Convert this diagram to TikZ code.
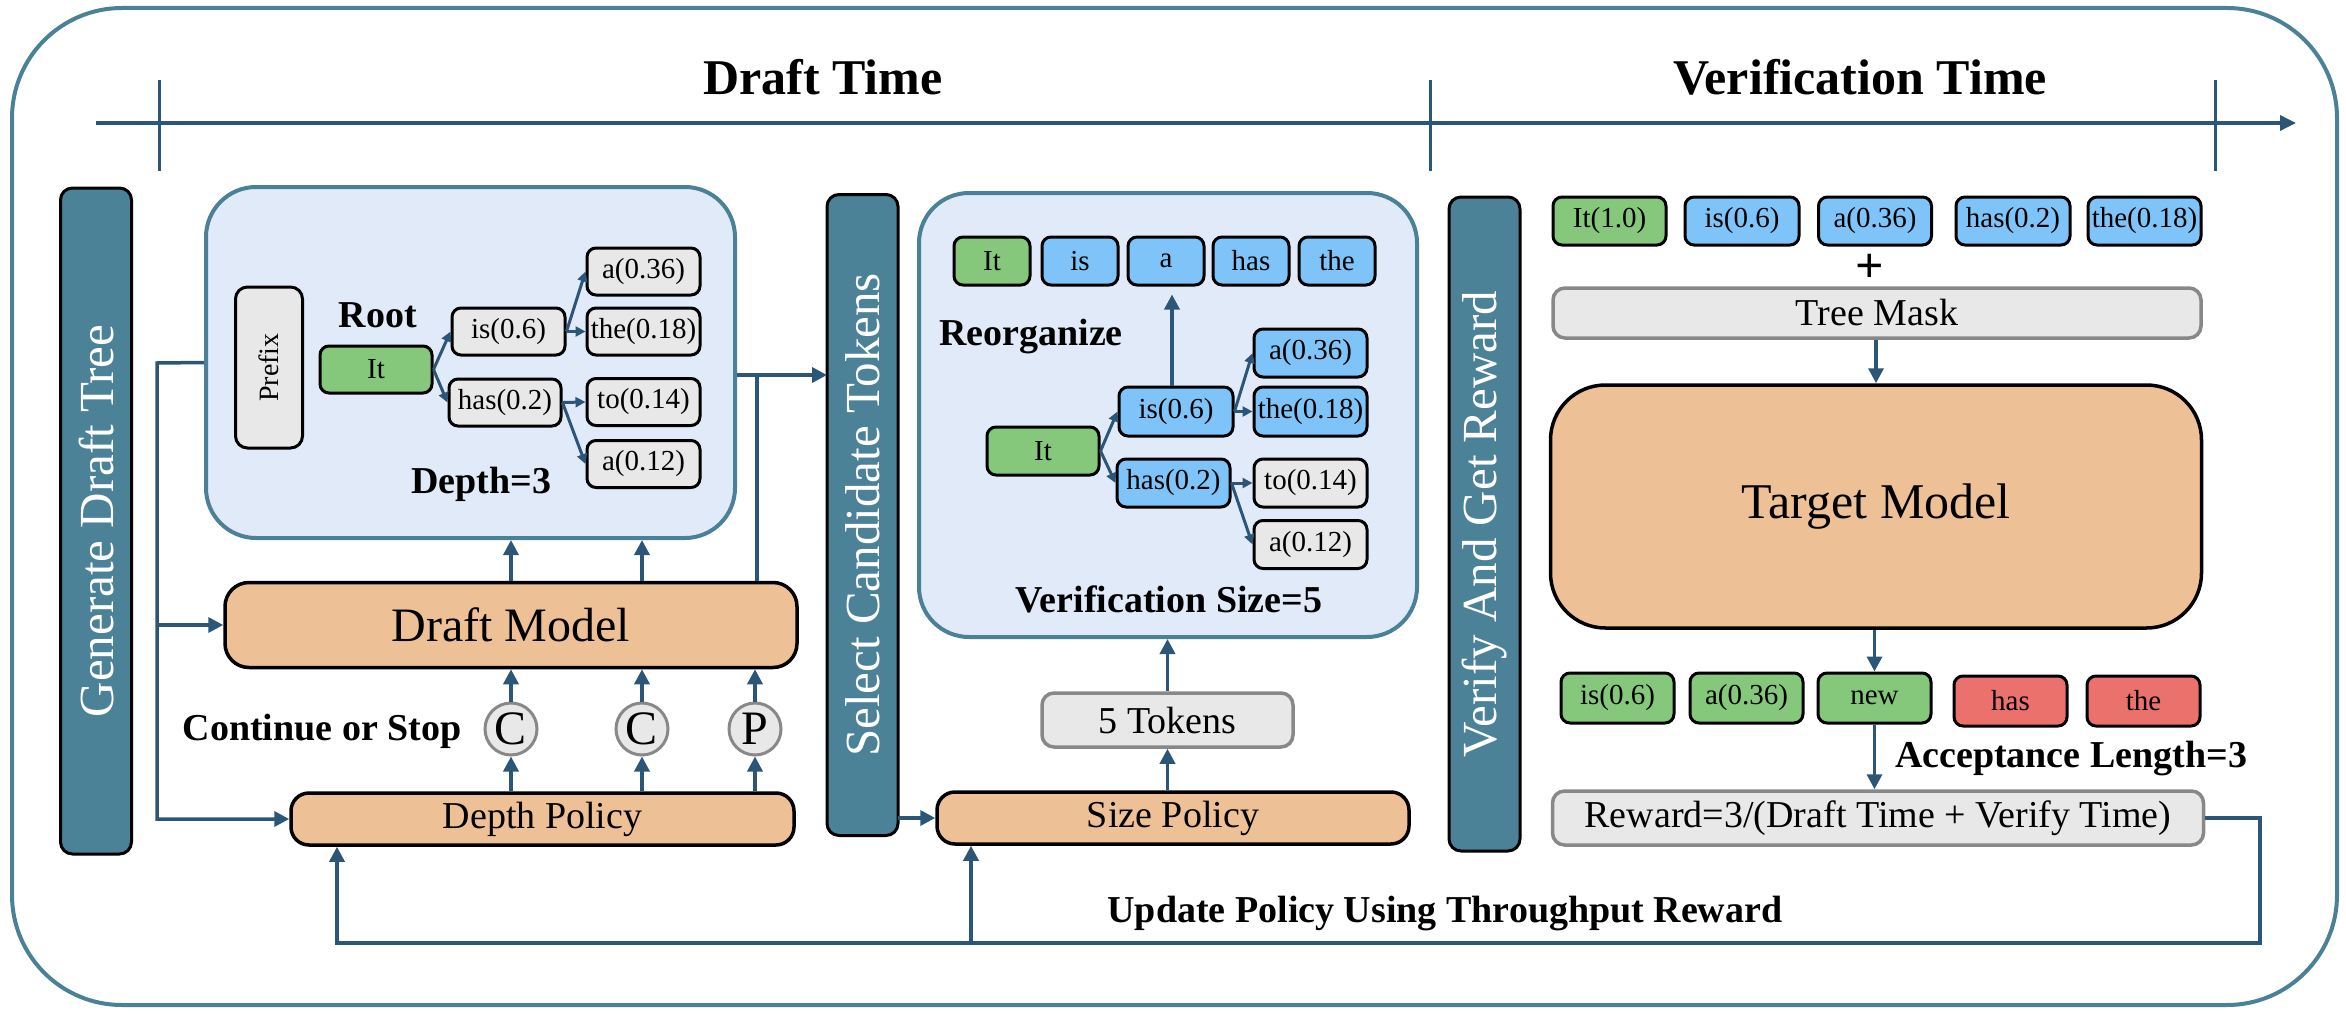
\documentclass[tikz,border=0pt]{standalone}
\usepackage{fontspec}
\setmainfont{Liberation Serif}
\usetikzlibrary{arrows.meta,calc}
\definecolor{frameC}{RGB}{74,129,151}
\definecolor{barC}{RGB}{76,130,152}
\definecolor{arrC}{RGB}{44,86,120}
\definecolor{panelC}{RGB}{225,234,249}
\definecolor{orangeC}{RGB}{237,192,150}
\definecolor{grayF}{RGB}{232,232,232}
\definecolor{grayB}{RGB}{136,136,136}
\definecolor{tokGreen}{RGB}{133,200,124}
\definecolor{tokBlue}{RGB}{127,196,248}
\definecolor{tokRed}{RGB}{235,113,108}
\begin{document}
\begin{tikzpicture}[x=1pt,y=-1pt,
  tok/.style={draw=black, line width=3pt, rounded corners=9pt, inner sep=0pt,
    minimum width=113pt, minimum height=48pt, font=\fontsize{29}{34}\selectfont},
  gtok/.style={tok, fill=tokGreen},
  btok/.style={tok, fill=tokBlue},
  rtok/.style={tok, fill=tokRed},
  wtok/.style={tok, fill=grayF},
  vbar/.style={draw=black, line width=3pt, fill=barC, rounded corners=12pt, text=white,
    inner sep=0pt, rotate=90, minimum height=71pt, font=\fontsize{49}{58}\selectfont},
  panel/.style={draw=frameC, line width=4pt, fill=panelC, rounded corners=50pt, inner sep=0pt},
  obox/.style={draw=black, line width=3.5pt, fill=orangeC, inner sep=0pt},
  gbox/.style={draw=grayB, line width=3.5pt, fill=grayF, rounded corners=12pt, inner sep=0pt,
    font=\fontsize{38}{44}\selectfont},
  circ/.style={circle, draw=grayB, line width=3pt, fill=grayF, minimum size=52pt, inner sep=0pt,
    font=\fontsize{48}{50}\selectfont},
  lbl/.style={anchor=base, font=\bfseries\fontsize{38}{44}\selectfont},
  ttl/.style={anchor=base, font=\bfseries\fontsize{50}{58}\selectfont},
  conn/.style={draw=arrC, line width=3.5pt},
  arr/.style={conn, -{Triangle[length=15pt,width=15pt]}},
  sarr/.style={draw=arrC, line width=3pt, -{Triangle[length=10pt,width=10pt]}}
]
\useasboundingbox (0,0) rectangle (2346,1014);

% outer frame
\draw[draw=frameC, line width=4pt, rounded corners=110pt] (12,8) rectangle (2337,1005);

% time axis
\coordinate (ax0) at (96,123);
\coordinate (ax1) at (2296,123);
\draw[conn, -{Triangle[length=16pt,width=15pt]}] (ax0) -- (ax1);
\foreach \n/\xx in {t1/159, t2/1430, t3/2215} {
  \coordinate (\n a) at (\xx,80);
  \coordinate (\n b) at (\xx,171);
  \draw[draw=arrC, line width=3pt] (\n a) -- (\n b);
}
\node[ttl] (tdraft) at (823,95) {Draft Time};
\node[ttl] (tverif) at (1860,95) {Verification Time};

% vertical bars
\node[vbar, minimum width=666pt] (gen) at (96,521) {Generate Draft Tree};
\node[vbar, minimum width=641pt] (sel) at (862.5,515) {Select Candidate Tokens};
\node[vbar, minimum width=654pt] (ver) at (1484.5,524) {Verify And Get Reward};
\coordinate (selL) at (827,515);
\coordinate (selR) at (898,515);

% draft tree panel
\node[panel, minimum width=529pt, minimum height=351pt] (tree) at (470.5,362.5) {};
\node[draw=black, line width=3pt, fill=grayF, rounded corners=12pt, rotate=90, inner sep=0pt,
  minimum width=161pt, minimum height=67pt, font=\fontsize{28}{32}\selectfont] (prefix) at (269,367.5) {Prefix};
\node[lbl] (root) at (378,327) {Root};
\node[gtok, minimum width=112pt, minimum height=47pt] (it1) at (376,369.5) {It};
\node[wtok, minimum height=47pt] (is1) at (508.5,331.5) {is(0.6)};
\node[wtok, minimum width=112pt, minimum height=47pt] (has1) at (505,402.5) {has(0.2)};
\node[wtok, minimum height=47pt] (a1) at (643.5,271.5) {a(0.36)};
\node[wtok, minimum height=47pt] (the1) at (643.5,331.5) {the(0.18)};
\node[wtok, minimum height=47pt] (to1) at (643.5,402) {to(0.14)};
\node[wtok, minimum height=47pt] (a2) at (643.5,464) {a(0.12)};
\node[lbl] (depth) at (481.5,493) {Depth=3};
\draw[sarr] (it1.east) -- (is1.west);
\draw[sarr] (it1.east) -- (has1.west);
\draw[sarr] (is1.east) -- (a1.west);
\draw[sarr] (is1.east) -- (the1.west);
\draw[sarr] (has1.east) -- (to1.west);
\draw[sarr] (has1.east) -- (a2.west);

% draft model and depth policy
\node[obox, rounded corners=24pt, minimum width=572pt, minimum height=85pt,
  font=\fontsize{48}{56}\selectfont] (dm) at (511,625) {Draft Model};
\node[obox, rounded corners=18pt, minimum width=503pt, minimum height=52pt,
  font=\fontsize{38}{44}\selectfont] (dpol) at (542.5,819) {Depth Policy};
\node[circ] (c1) at (511,729) {C};
\node[circ] (c2) at (642,729) {C};
\node[circ] (pp) at (755,729) {P};
\node[lbl] (cos) at (322,740) {Continue or Stop};

\foreach \c in {c1,c2,pp} {
  \draw[arr] (\c |- dpol.north) -- (\c.south);
  \draw[arr] (\c.north) -- (\c |- dm.south);
}
\draw[arr] (c1 |- dm.north) -- (c1 |- tree.south);
\draw[arr] (c2 |- dm.north) -- (c2 |- tree.south);

% left feed lines
\coordinate (jl) at (157,363);
\draw[arr] (tree.west) -- (jl) |- (dpol.west);
\draw[arr] (jl |- dm.west) -- (dm.west);

% right output to select
\coordinate (jr) at (757,375);
\draw[arr] (tree.east |- jr) -- (selL |- jr);
\draw[conn] (dm.north -| jr) -- (jr);

% verification panel
\node[panel, minimum width=498pt, minimum height=444pt] (vbox) at (1168,415) {};
\node[gtok, minimum width=76pt] (r1) at (992,261) {It};
\node[btok, minimum width=76pt] (r2) at (1080,261) {is};
\node[btok, minimum width=76pt] (r3) at (1166,261) {a};
\node[btok, minimum width=76pt] (r4) at (1251,261) {has};
\node[btok, minimum width=76pt] (r5) at (1337,261) {the};
\node[lbl] (reorg) at (1031,345) {Reorganize};
\node[gtok, minimum width=112pt] (it2) at (1043,451) {It};
\node[btok, minimum width=114pt, minimum height=49pt] (is2) at (1176,411.5) {is(0.6)};
\node[btok] (has2) at (1173.5,483) {has(0.2)};
\node[btok] (a3) at (1310.5,353) {a(0.36)};
\node[btok, minimum height=49pt] (the2) at (1310.5,411.5) {the(0.18)};
\node[wtok] (to2) at (1310.5,483) {to(0.14)};
\node[wtok] (a4) at (1310.5,544.5) {a(0.12)};
\node[lbl] (vsize) at (1169,612) {Verification Size=5};
\draw[sarr] (it2.east) -- (is2.west);
\draw[sarr] (it2.east) -- (has2.west);
\draw[sarr] (is2.east) -- (a3.west);
\draw[sarr] (is2.east) -- (the2.west);
\draw[sarr] (has2.east) -- (to2.west);
\draw[sarr] (has2.east) -- (a4.west);
\draw[arr, shorten >=8pt] ([xshift=-4pt]is2.north) -- ([xshift=-4pt]is2.north |- r3.south);

% size policy
\node[obox, rounded corners=18pt, minimum width=472pt, minimum height=52pt,
  font=\fontsize{38}{44}\selectfont] (spol) at (1173,818) {Size Policy};
\node[gbox, minimum width=251pt, minimum height=54pt] (tok5) at (1167.5,720) {5 Tokens};
\draw[arr] (selR |- spol.west) -- (spol.west);
\draw[arr] (spol.north -| tok5) -- (tok5.south);
\draw[arr] (tok5.north) -- (tok5.north |- vbox.south);

% verification side
\node[gtok] (v1) at (1609.5,221) {It(1.0)};
\node[btok, minimum width=114pt] (v2) at (1742,221) {is(0.6)};
\node[btok] (v3) at (1875,221) {a(0.36)};
\node[btok, minimum width=114pt] (v4) at (2013,221) {has(0.2)};
\node[btok] (v5) at (2144.5,221) {the(0.18)};
\node[font=\bfseries\fontsize{50}{54}\selectfont, inner sep=0pt] (plus) at (1870,268) {+};
\node[gbox, minimum width=648pt, minimum height=50pt] (tm) at (1877,313) {Tree Mask};
\node[obox, rounded corners=55pt, minimum width=651pt, minimum height=243pt,
  font=\fontsize{50}{58}\selectfont] (target) at (1876,506.5) {Target Model};
\node[gtok, minimum height=50pt] (b1) at (1617.5,698) {is(0.6)};
\node[gtok, minimum height=50pt] (b2) at (1746.5,698) {a(0.36)};
\node[gtok, minimum height=50pt] (b3) at (1874.5,698) {new};
\node[rtok, minimum height=50pt] (b4) at (2010.5,701) {has};
\node[rtok, minimum height=50pt] (b5) at (2143.5,701) {the};
\node[lbl] (acc) at (2071,767) {Acceptance Length=3};
\node[gbox, minimum width=651pt, minimum height=54pt] (rew) at (1878,818) {Reward=3/(Draft Time + Verify Time)};
\draw[arr] (tm.south -| target) -- (target.north);
\draw[arr] (target.south -| b3) -- (b3.north);
\draw[arr] (b3.south) -- (b3.south |- rew.north);

% feedback loop
\coordinate (lr) at (2260,943);
\coordinate (ld) at (337,943);
\coordinate (ls) at (971,943);
\draw[arr] (rew.east) -| (lr) -- (ld) -- (ld |- dpol.south);
\draw[arr] (ls) -- (ls |- spol.south);
\node[lbl] (upd) at (1445,922) {Update Policy Using Throughput Reward};
\end{tikzpicture}
\end{document}
